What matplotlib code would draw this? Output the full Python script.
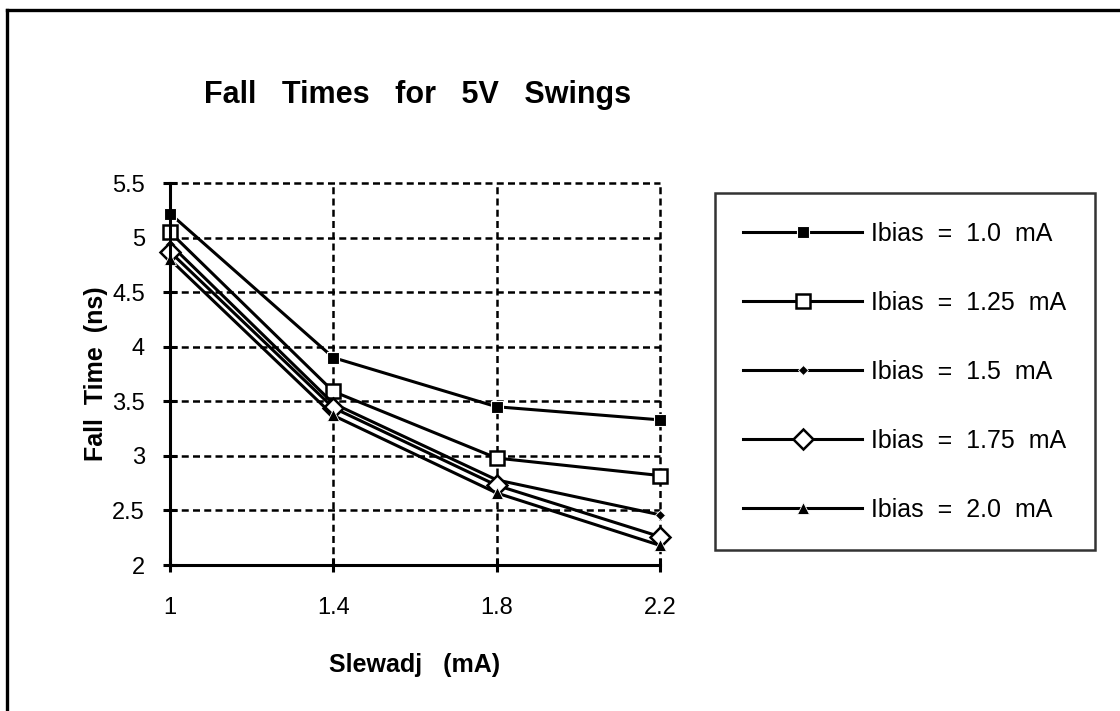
import matplotlib
matplotlib.use('Agg')
import matplotlib.pyplot as plt
from matplotlib.lines import Line2D

plt.rcParams['font.family'] = ['Liberation Sans', 'DejaVu Sans']

# ── data ──
slewadj = [1.0, 1.4, 1.8, 2.2]
ibias_labels = ['Ibias  =  1.0  mA', 'Ibias  =  1.25  mA', 'Ibias  =  1.5  mA',
                'Ibias  =  1.75  mA', 'Ibias  =  2.0  mA']
fall_10 = [5.22, 3.90, 3.45, 3.33]
fall_125 = [5.05, 3.59, 2.98, 2.82]
fall_15 = [4.94, 3.48, 2.78, 2.46]
fall_175 = [4.87, 3.44, 2.73, 2.26]
fall_20 = [4.80, 3.37, 2.66, 2.18]
xticks = [1.0, 1.4, 1.8, 2.2]
xtick_labels = ['1', '1.4', '1.8', '2.2']
yticks = [2, 2.5, 3, 3.5, 4, 4.5, 5, 5.5]
ytick_labels = ['2', '2.5', '3', '3.5', '4', '4.5', '5', '5.5']

series = [fall_10, fall_125, fall_15, fall_175, fall_20]
styles = [
    dict(marker='s', ms=8, mfc='black', mec='white', mew=0.8),
    dict(marker='s', ms=9.5, mfc='white', mec='black', mew=1.8),
    dict(marker='D', ms=5.5, mfc='black', mec='white', mew=0.6),
    dict(marker='D', ms=10, mfc='white', mec='black', mew=1.8),
    dict(marker='^', ms=8, mfc='black', mec='white', mew=0.6),
]

fig = plt.figure(figsize=(11.2, 7.11), dpi=100)
ax = fig.add_axes([0.1518, 0.2053, 0.4375, 0.5373])

for ys, lab, st in zip(series, ibias_labels, styles):
    ax.plot(slewadj, ys, color='black', lw=2.2, label=lab, clip_on=False, zorder=3, **st)

ax.set_xlim(1.0, 2.2)
ax.set_ylim(2, 5.5)
ax.set_xticks(xticks)
ax.set_xticklabels(xtick_labels)
ax.set_yticks(yticks)
ax.set_yticklabels(ytick_labels)
ax.tick_params(direction='inout', length=10, width=2.2, labelsize=17)
ax.tick_params(axis='x', pad=18)
ax.tick_params(axis='y', pad=13)
ax.grid(True, color='black', lw=1.8, ls=(0, (2.8, 1.7)))
for g in ax.xaxis.get_gridlines() + ax.yaxis.get_gridlines():
    g.set_clip_on(False)
ax.set_axisbelow(True)
for s in ['top', 'right']:
    ax.spines[s].set_visible(False)
for s in ['left', 'bottom']:
    ax.spines[s].set_linewidth(2.2)
    ax.spines[s].set_zorder(4)

ax.set_xlabel('Slewadj   (mA)', fontsize=18, fontweight='bold', va='center')
ax.xaxis.set_label_coords(0.5, -0.262)
ax.set_ylabel('Fall  Time  (ns)', fontsize=18, fontweight='bold', va='center')
ax.yaxis.set_label_coords(-0.152, 0.5)
fig.text(0.373, 0.866, 'Fall   Times   for   5V   Swings', fontsize=22, fontweight='bold',
         ha='center', va='center')

leg = ax.legend(loc='upper left', bbox_to_anchor=(0.638, 0.7286),
                bbox_transform=fig.transFigure, fontsize=18,
                frameon=True, fancybox=False, handlelength=4.75, handletextpad=0.36,
                labelspacing=1.8, borderpad=1.15, borderaxespad=0)
leg.get_frame().set_edgecolor('black')
leg.get_frame().set_linewidth(1.8)

# outer chart border (runs off the right and bottom edges)
fig.add_artist(Line2D([7 / 1120, 1.0], [1 - 10 / 711, 1 - 10 / 711], transform=fig.transFigure,
                      color='black', lw=2.4))
fig.add_artist(Line2D([7 / 1120, 7 / 1120], [0.0, 1 - 10 / 711], transform=fig.transFigure,
                      color='black', lw=2.4))

fig.savefig('out.png', dpi=100, facecolor='white')
